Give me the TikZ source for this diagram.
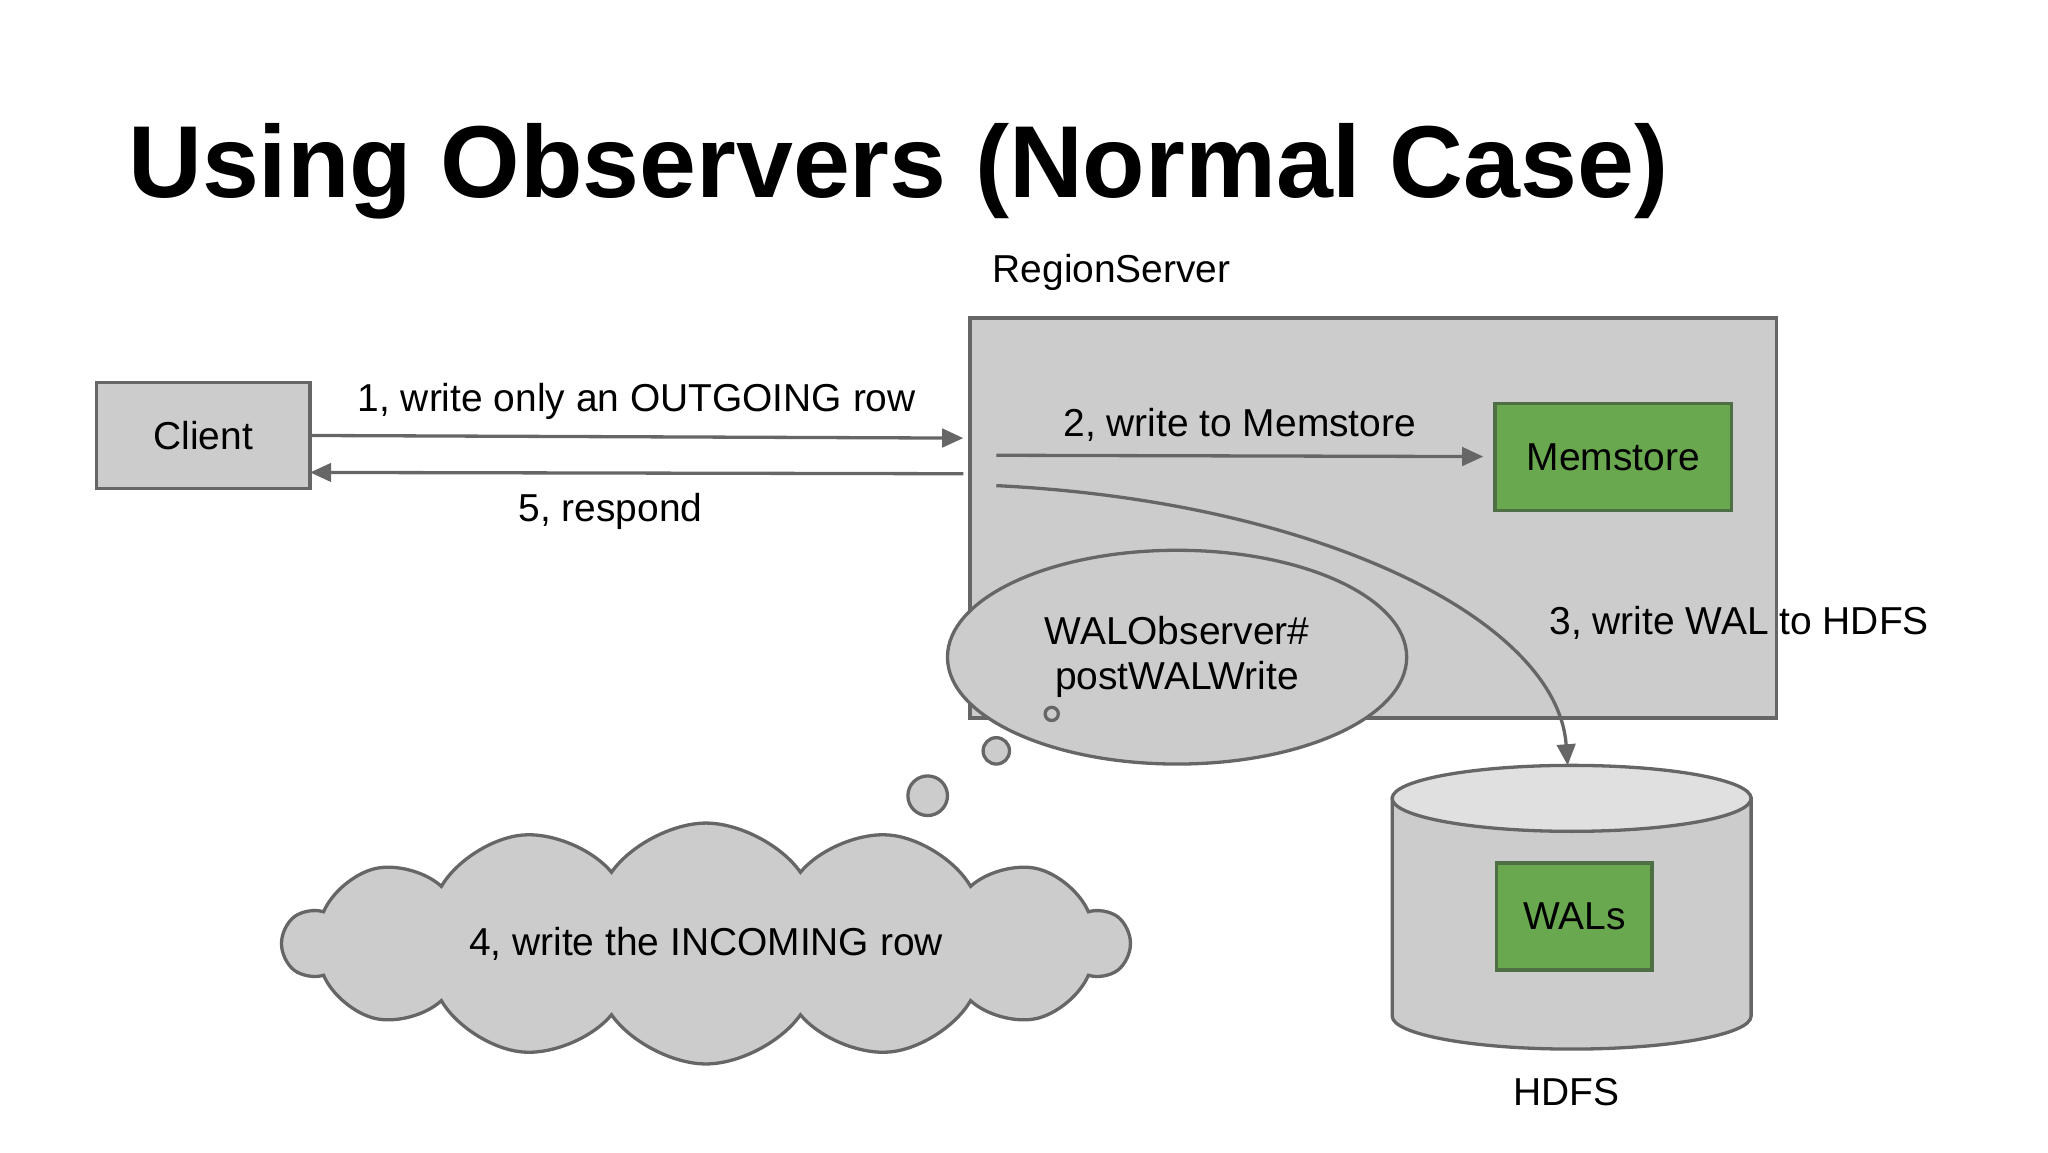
\documentclass[tikz,border=0pt]{standalone}
\usepackage{fontspec}
\setmainfont{Liberation Sans}
\usetikzlibrary{shapes.geometric, shapes.symbols, arrows.meta, calc}
\definecolor{boxgray}{HTML}{CCCCCC}
\definecolor{edge}{HTML}{666666}
\definecolor{leaf}{HTML}{6AA84F}
\definecolor{leafedge}{HTML}{4E6E44}
\begin{document}
\begin{tikzpicture}[x=1pt, y=-1pt,
    lbl/.style={font=\fontsize{29.5}{34}\selectfont, inner sep=0pt},
    grey/.style={draw=edge, fill=boxgray, line width=2.5pt},
    green/.style={draw=leafedge, fill=leaf, line width=2.5pt},
    arr/.style={draw=edge, line width=2.5pt, -{Triangle[length=16pt, width=14pt]}}
]
\useasboundingbox (0,0) rectangle (1552,873);
% title
\node[anchor=base west, inner sep=0pt, font=\fontsize{77.5}{90}\selectfont\bfseries] (title) at (97,150) {Using Observers (Normal Case)};
% region server
\node[lbl, anchor=base west] (rslabel) at (752,214) {RegionServer};
\node[grey, rectangle, minimum width=611pt, minimum height=303pt] (rs) at (1040.5,392.5) {};
\node[grey, rectangle, minimum width=162pt, minimum height=80pt, lbl] (client) at (154,330) {Client};
\node[green, rectangle, minimum width=179pt, minimum height=81pt, lbl] (mem) at (1222.5,346.5) {Memstore};
% connectors
\coordinate (c1) at (235,330);
\coordinate (r1) at (730,332);
\coordinate (r5) at (730,359);
\coordinate (c5) at (235,358);
\draw[arr] (c1) -- node[lbl, above=12pt] (l1) {1, write only an OUTGOING row} (r1);
\draw[arr] (r5) -- node[lbl, below=14pt, pos=0.54] (l5) {5, respond} (c5);
\coordinate (m0) at (755,345);
\coordinate (m1) at (1124,346);
\draw[arr] (m0) -- node[lbl, above=10pt] (l2) {2, write to Memstore} (m1);
% cylinder
\coordinate (h0) at (755,368);
\coordinate (h1) at (1188,580);
\path[grey] (1055,605) -- (1055,770) arc[start angle=180, end angle=0, x radius=136, y radius=25] -- (1327,605) -- cycle;
\path[draw=edge, fill=black!12, line width=2.5pt] (1191,605) ellipse[x radius=136, y radius=25];
\node[green, rectangle, minimum width=118pt, minimum height=81pt, lbl] (wals) at (1193,694.5) {WALs};
\node[lbl, anchor=base] (hdfs) at (1187,838) {HDFS};
\draw[arr] (h0) .. controls (1000,380) and (1180,470) .. (h1);
\node[lbl, anchor=base] (l3) at (1318,481) {3, write WAL to HDFS};
% thought bubble
\node[grey, ellipse, minimum width=348pt, minimum height=162pt, lbl, align=center] (obs) at (892,498) {WALObserver\#\\postWALWrite};
\node[grey, circle, minimum size=10pt, inner sep=0pt] (b1) at (797,541) {};
\node[grey, circle, minimum size=20pt, inner sep=0pt] (b2) at (755,569) {};
\node[grey, circle, minimum size=30pt, inner sep=0pt] (b3) at (703,603) {};
\node[grey, cloud, cloud puffs=14, cloud puff arc=110, aspect=4, minimum width=640pt, minimum height=165pt, lbl] (cloud) at (535,715) {4, write the INCOMING row};
\end{tikzpicture}
\end{document}
